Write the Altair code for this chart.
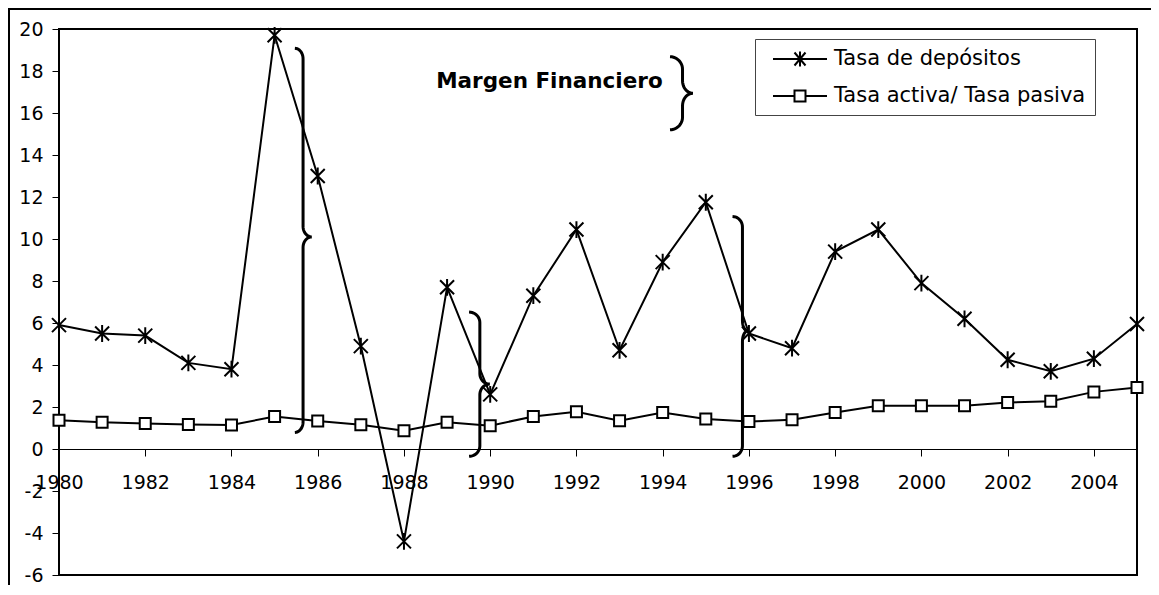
import altair as alt
import pandas as pd
import numpy as np

# ---------------- data ----------------
years = list(range(1980, 2006))
tasa_depositos = [5.9, 5.5, 5.4, 4.1, 3.8, 19.7, 13.0, 4.9, -4.4, 7.7, 2.6, 7.3, 10.45,
                  4.7, 8.9, 11.75, 5.5, 4.8, 9.4, 10.45, 7.9, 6.2, 4.25, 3.7, 4.3, 5.95]
tasa_ratio = [1.37, 1.27, 1.22, 1.17, 1.14, 1.55, 1.33, 1.16, 0.87, 1.27, 1.11, 1.55, 1.77,
              1.35, 1.74, 1.43, 1.31, 1.39, 1.74, 2.06, 2.06, 2.06, 2.22, 2.27, 2.72, 2.93]
series_names = ["Tasa de depósitos", "Tasa activa/ Tasa pasiva"]
x_tick_values = list(range(1980, 2005, 2))
y_tick_values = list(range(-6, 21, 2))

annotation_text = ["Margen Financiero"]
annotation_x = [1994.0]
annotation_y = [17.18]

# braces (annotation shapes): stem year, bottom, middle, top, hook/cusp widths (years), curl (y units)
brace_stem = [1985.66, 1989.76, 1995.85, 1994.46]
brace_bottom = [0.79, -0.35, -0.35, 15.2]
brace_mid = [10.1, 3.09, 5.62, 16.94]
brace_top = [19.08, 6.52, 11.07, 18.68]
brace_hook = [0.19, 0.25, 0.23, 0.29]
brace_cusp = [0.2, 0.23, 0.12, 0.24]
brace_curl = [0.5, 0.5, 0.5, 0.6]

# ---------------- layout ----------------
W, H = 1078, 546
PAD = {"left": 51, "top": 21, "right": 14, "bottom": 10}
FONT = "DejaVu Sans"

df = pd.DataFrame({
    "year": years * 2,
    "value": tasa_depositos + tasa_ratio,
    "series": [series_names[0]] * len(years) + [series_names[1]] * len(years),
})
df_dep = df[df.series == series_names[0]]
df_rat = df[df.series == series_names[1]]


def brace_points(x0, yb, ym, yt, hook, cusp, r, n=12):
    pts = []
    for t in np.linspace(np.pi / 2, 0, n):
        pts.append((x0 - hook + hook * np.cos(t), yt - r + r * np.sin(t)))
    for t in np.linspace(np.pi, 1.5 * np.pi, n):
        pts.append((x0 + cusp + cusp * np.cos(t), ym + r + r * np.sin(t)))
    for t in np.linspace(0.5 * np.pi, np.pi, n):
        pts.append((x0 + cusp + cusp * np.cos(t), ym - r + r * np.sin(t)))
    for t in np.linspace(0, -0.5 * np.pi, n):
        pts.append((x0 - hook + hook * np.cos(t), yb + r + r * np.sin(t)))
    return pts


rows = []
for b in range(len(brace_stem)):
    pts = brace_points(brace_stem[b], brace_bottom[b], brace_mid[b], brace_top[b],
                       brace_hook[b], brace_cusp[b], brace_curl[b])
    for i, (bx, by) in enumerate(pts):
        rows.append({"brace": b, "i": i, "bx": bx, "by": by})
df_brace = pd.DataFrame(rows)

df_ann = pd.DataFrame({"x": annotation_x, "y": annotation_y, "t": annotation_text})

xscale = alt.Scale(domain=[1980, 2005], nice=False, zero=False)
yscale = alt.Scale(domain=[-6, 20], nice=False, zero=False)

x_axis = alt.Axis(values=x_tick_values, format="d", orient="bottom", offset=-(H * 6 / 26),
                  tickSize=7, tickColor="black", tickWidth=1, domainColor="black", domainWidth=1,
                  labelFont=FONT, labelFontSize=19, labelColor="black", labelPadding=17,
                  labelFlush=False, labelOverlap=False, grid=False, title=None)
y_axis = alt.Axis(values=y_tick_values, labelExpr="'' + datum.value", tickSize=7, tickColor="black",
                  tickWidth=1, domain=False, labelFont=FONT, labelFontSize=19, labelColor="black",
                  labelPadding=9, labelFlush=False, labelOverlap=False, grid=False, title=None)

X = alt.X("year:Q", scale=xscale, axis=x_axis)
Y = alt.Y("value:Q", scale=yscale, axis=y_axis)

lines = alt.Chart(df).mark_line(color="black", strokeWidth=2).encode(x=X, y=Y, detail="series:N")

asterisk = "M-1,-1L1,1M-1,1L1,-1M0,-1.2L0,1.2"
pts_dep = alt.Chart(df_dep).mark_point(shape=asterisk, size=196, stroke="black", strokeWidth=2,
                                        filled=False, opacity=1).encode(x=X, y=Y)
pts_rat = alt.Chart(df_rat).mark_point(shape="square", size=121, filled=True, fill="white",
                                        stroke="black", strokeWidth=2, opacity=1).encode(x=X, y=Y)

legend_path_1 = "M-2.7,0L2.7,0M-0.55,-0.65L0.55,0.65M-0.55,0.65L0.55,-0.65M0,-0.75L0,0.75"
legend_path_2 = "M-2.7,0L-0.55,0M0.55,0L2.7,0M-0.55,-0.55L0.55,-0.55L0.55,0.55L-0.55,0.55Z"
legend_layer = alt.Chart(df).transform_filter("datum.year < 0").mark_point(
    filled=False, color="black", strokeWidth=2, opacity=1).encode(
    x=X, y=Y,
    shape=alt.Shape("series:N",
                    scale=alt.Scale(domain=series_names, range=[legend_path_1, legend_path_2]),
                    legend=alt.Legend(title=None, orient="none", legendX=696, legendY=10,
                                      padding=9, rowPadding=14, symbolSize=400,
                                      symbolOffset=25, labelOffset=23,
                                      symbolStrokeWidth=2, symbolStrokeColor="black",
                                      symbolOpacity=1,
                                      labelFont=FONT, labelFontSize=21, labelColor="black",
                                      labelLimit=400, strokeColor="#444", fillColor="white",
                                      cornerRadius=0)),
)

braces = alt.Chart(df_brace).mark_line(color="black", strokeWidth=3).encode(
    x=alt.X("bx:Q", scale=xscale, axis=x_axis),
    y=alt.Y("by:Q", scale=yscale, axis=y_axis),
    detail="brace:N", order="i:Q")

ann = alt.Chart(df_ann).mark_text(align="right", baseline="alphabetic", font=FONT,
                                  fontWeight="bold", fontSize=21.5, color="black").encode(
    x=alt.X("x:Q", scale=xscale, axis=x_axis),
    y=alt.Y("y:Q", scale=yscale, axis=y_axis),
    text="t:N")

frame_df = pd.DataFrame({"k": [0]})
top_rule = alt.Chart(frame_df).mark_rule(color="black", strokeWidth=2).encode(
    x=alt.value(-PAD["left"]), x2=alt.value(W + PAD["right"]), y=alt.value(-PAD["top"] + 1))
left_rule = alt.Chart(frame_df).mark_rule(color="black", strokeWidth=2).encode(
    x=alt.value(-PAD["left"] + 1), y=alt.value(-PAD["top"]), y2=alt.value(H + PAD["bottom"]))

chart = alt.layer(lines, braces, pts_dep, pts_rat, legend_layer, ann, top_rule, left_rule).properties(
    width=W, height=H,
    autosize=alt.AutoSizeParams(type="none"),
    padding=PAD,
    background="white",
).configure_view(stroke="black", strokeWidth=2)

chart.save("out.html", embed_options={"renderer": "svg", "actions": False})
